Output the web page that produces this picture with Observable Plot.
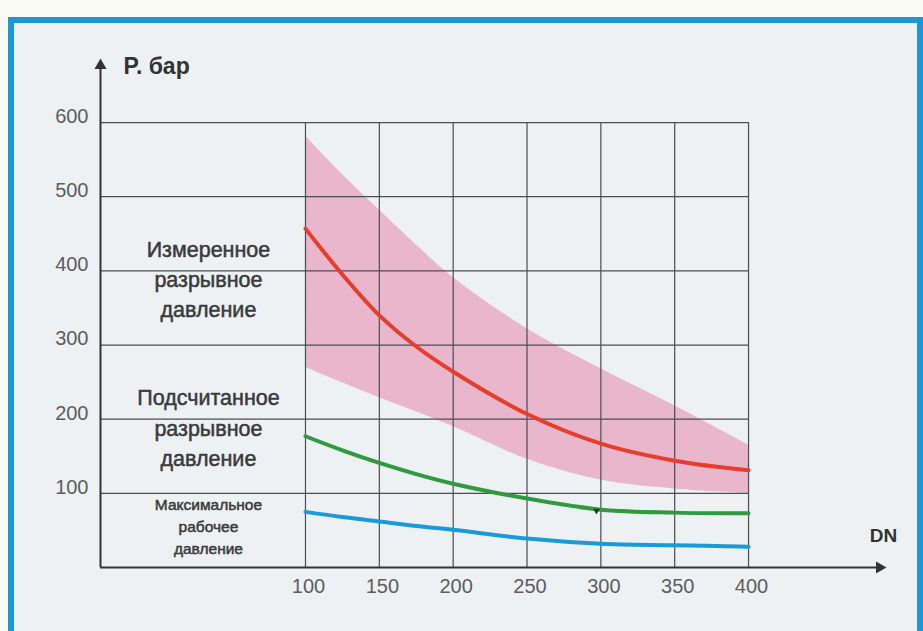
<!DOCTYPE html>
<html>
<head>
<meta charset="utf-8">
<script src="https://cdn.jsdelivr.net/npm/d3@7"></script>
<script src="https://cdn.jsdelivr.net/npm/@observablehq/plot@0.6"></script>
<style>
  body { margin: 0; background: #fbfbf6; }
  #wrap { position: relative; width: 923px; height: 631px; overflow: hidden; }
  #frame { position: absolute; left: 8px; top: 17px; width: 903px; height: 612px; border: 6px solid #1f97d4; background: #edf1f4; }
  #chart { position: absolute; left: 0; top: 0; }
</style>
</head>
<body>
<div id="wrap">
  <div id="frame"></div>
  <div id="chart"></div>
</div>
<script>
// ---- data ----
const dn        = [100, 125, 150, 175, 200, 250, 300, 350, 400];
const measured  = [457, 395, 340, 298, 264, 207, 167, 144, 131];   // red line
const bandUpper = [582, 530, 482, 435, 391, 322, 268, 218, 165];   // pink band top
const bandLower = [270, 249, 229, 210, 190, 146, 118, 106, 100];   // pink band bottom
const computed  = [177, 158, 141, 126, 113,  93,  78,  74,  73];   // green line
const working   = [ 75,  68,  62,  56,  51,  39,  32,  30,  28];   // blue line
const xTicks = [100, 150, 200, 250, 300, 350, 400];
const yTicks = [100, 200, 300, 400, 500, 600];
const seriesLabels = [
  "Измеренное\nразрывное\nдавление",
  "Подсчитанное\nразрывное\nдавление",
  "Максимальное\nрабочее\nдавление"
];
const yTitle = "P. бар";
const xTitle = "DN";
const greenMarker = [{x: 297, y: 78}];

// ---- build tables ----
const rows = dn.map((d, i) => ({
  dn: d, measured: measured[i], upper: bandUpper[i], lower: bandLower[i],
  computed: computed[i], working: working[i]
}));

const xStart = -38.8, xEnd = 490.7, yTop = 681;
const labelFont = "'Liberation Sans', Arial, sans-serif";
const curve = "catmull-rom";

const chart = Plot.plot({
  width: 923,
  height: 631,
  marginLeft: 100,
  marginRight: 41,
  marginTop: 62,
  marginBottom: 64,
  style: {background: "transparent", overflow: "visible"},
  x: {domain: [xStart, xEnd], axis: null},
  y: {domain: [0, yTop], axis: null},
  marks: [
    Plot.areaY(rows, {x: "dn", y1: "lower", y2: "upper", fill: "#e9abc4", fillOpacity: 0.85, curve}),
    Plot.ruleY(yTicks, {x1: xStart, x2: 400, stroke: "#4a4d52", strokeWidth: 1.2}),
    Plot.ruleX(xTicks, {y1: 0, y2: 600, stroke: "#4a4d52", strokeWidth: 1.2}),
    Plot.line(rows, {x: "dn", y: "working", stroke: "#1b9ad8", strokeWidth: 4, curve}),
    Plot.line(rows, {x: "dn", y: "computed", stroke: "#2f9a3e", strokeWidth: 4, curve}),
    Plot.line(rows, {x: "dn", y: "measured", stroke: "#e63d2c", strokeWidth: 4, curve}),
    Plot.dot(greenMarker, {x: "x", y: "y", symbol: "triangle", rotate: 180, r: 2.5, fill: "#1d3d22", dy: 1}),
    // axes with arrows
    Plot.ruleY([0], {x1: xStart, x2: xEnd, stroke: "#333", strokeWidth: 2.2}),
    Plot.ruleX([xStart], {y1: 0, y2: yTop, stroke: "#333", strokeWidth: 2}),
    Plot.dot([0], {x: xEnd, y: 0, symbol: "triangle", rotate: 90, r: 4.5, fill: "#333", dx: -3}),
    Plot.dot([0], {x: xStart, y: yTop, symbol: "triangle", r: 4.5, fill: "#333", dy: 3}),
    Plot.axisY({ticks: yTicks, tickSize: 0, tickPadding: 12, dy: -6, fontSize: 20, fill: "#5d5d5d", label: null, fontFamily: "'Liberation Sans', Arial, sans-serif"}),
    Plot.axisX({ticks: xTicks, tickSize: 0, tickPadding: 11, dx: 3, fontSize: 20, fill: "#5d5d5d", label: null, fontFamily: "'Liberation Sans', Arial, sans-serif"}),
    Plot.text([yTitle], {x: xStart, y: yTop, dx: 23, dy: 4, textAnchor: "start", fontSize: 23, fontWeight: "bold", fill: "#333", fontFamily: "'Liberation Sans', Arial, sans-serif"}),
    Plot.text([xTitle], {x: xEnd, y: 0, dx: 1, dy: -32, fontSize: 19, fontWeight: "bold", fill: "#333", fontFamily: "'Liberation Sans', Arial, sans-serif"}),
    // series labels
    Plot.text([seriesLabels[0]], {x: 34.3, y: 391, fontSize: 21.5, lineHeight: 1.4, fill: "#3a3a3a", stroke: "#3a3a3a", strokeWidth: 0.5, fontFamily: labelFont}),
    Plot.text([seriesLabels[1]], {x: 34.3, y: 191, fontSize: 21.5, lineHeight: 1.4, fill: "#3a3a3a", stroke: "#3a3a3a", strokeWidth: 0.5, fontFamily: labelFont}),
    Plot.text([seriesLabels[2]], {x: 34.3, y: 57, fontSize: 15.5, lineHeight: 1.4, fill: "#3a3a3a", stroke: "#3a3a3a", strokeWidth: 0.5, fontFamily: labelFont})
  ]
});
document.getElementById("chart").appendChild(chart);
</script>
</body>
</html>
